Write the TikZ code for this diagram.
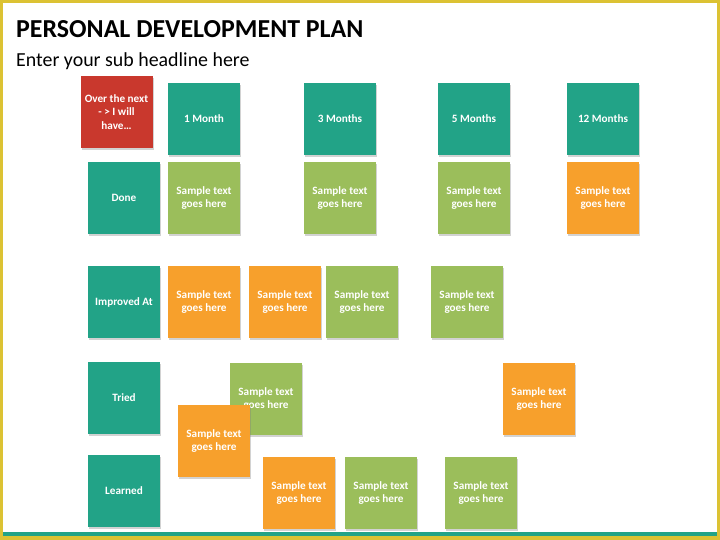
\documentclass[tikz,border=0pt]{standalone}
\usepackage{fontspec}
\setmainfont{Carlito}
\usetikzlibrary{shadows}
\definecolor{pdpteal}{HTML}{22A387}
\definecolor{pdpred}{HTML}{C9382D}
\definecolor{pdpgreen}{HTML}{9BBE5B}
\definecolor{pdporange}{HTML}{F7A02C}
\definecolor{pdpframe}{HTML}{DCC233}
\begin{document}
\begin{tikzpicture}[x=1pt,y=-1pt,
  card/.style={minimum size=72pt,inner sep=2pt,align=center,text=white,
    font=\fontsize{11.2}{13.3}\selectfont\bfseries,
    drop shadow={opacity=0.35,shadow xshift=1pt,shadow yshift=-2pt}},
  head/.style={card,fill=pdpteal},
  done/.style={card,fill=pdpgreen},
  todo/.style={card,fill=pdporange}]
\useasboundingbox (0,0) rectangle (720,540);
% frame
\fill[pdpframe] (0,0) rectangle (720,540);
\fill[white] (3,3) rectangle (717,534);
\fill[pdpteal] (3,532) rectangle (717,535.5);
% title
\node[anchor=base west,inner sep=0pt,font=\fontsize{25.9}{30}\selectfont\bfseries] (title) at (16,38) {PERSONAL DEVELOPMENT PLAN};
\node[anchor=base west,inner sep=0pt,font=\fontsize{19.9}{24}\selectfont] (sub) at (16,67) {Enter your sub headline here};
% header row
\node[card,fill=pdpred] (start) at (116.5,112) {Over the next\\- > I will\\have\ldots};
\node[head] (m1) at (204,119) {1 Month};
\node[head] (m3) at (340,119) {3 Months};
\node[head] (m5) at (474,119) {5 Months};
\node[head] (m12) at (603,119) {12 Months};
% row labels
\node[head] (done) at (124,198) {Done};
\node[head] (impr) at (124,302) {Improved At};
\node[head] (tried) at (124,398) {Tried};
\node[head] (learned) at (124,491) {Learned};
% done
\node[done] (d1) at (204,198) {Sample text\\goes here};
\node[done] (d2) at (340,198) {Sample text\\goes here};
\node[done] (d3) at (474,198) {Sample text\\goes here};
\node[todo] (d4) at (603,198) {Sample text\\goes here};
% improved at
\node[todo] (i1) at (204,302) {Sample text\\goes here};
\node[todo] (i2) at (285,302) {Sample text\\goes here};
\node[done] (i3) at (362,302) {Sample text\\goes here};
\node[done] (i4) at (467,302) {Sample text\\goes here};
% tried
\node[done] (t1) at (266,399) {Sample text\\goes here};
\node[todo] (t2) at (214,441) {Sample text\\goes here};
\node[todo] (t3) at (539,399) {Sample text\\goes here};
% learned
\node[todo] (l1) at (299,493) {Sample text\\goes here};
\node[done] (l2) at (381,493) {Sample text\\goes here};
\node[done] (l3) at (481,493) {Sample text\\goes here};
\end{tikzpicture}
\end{document}
